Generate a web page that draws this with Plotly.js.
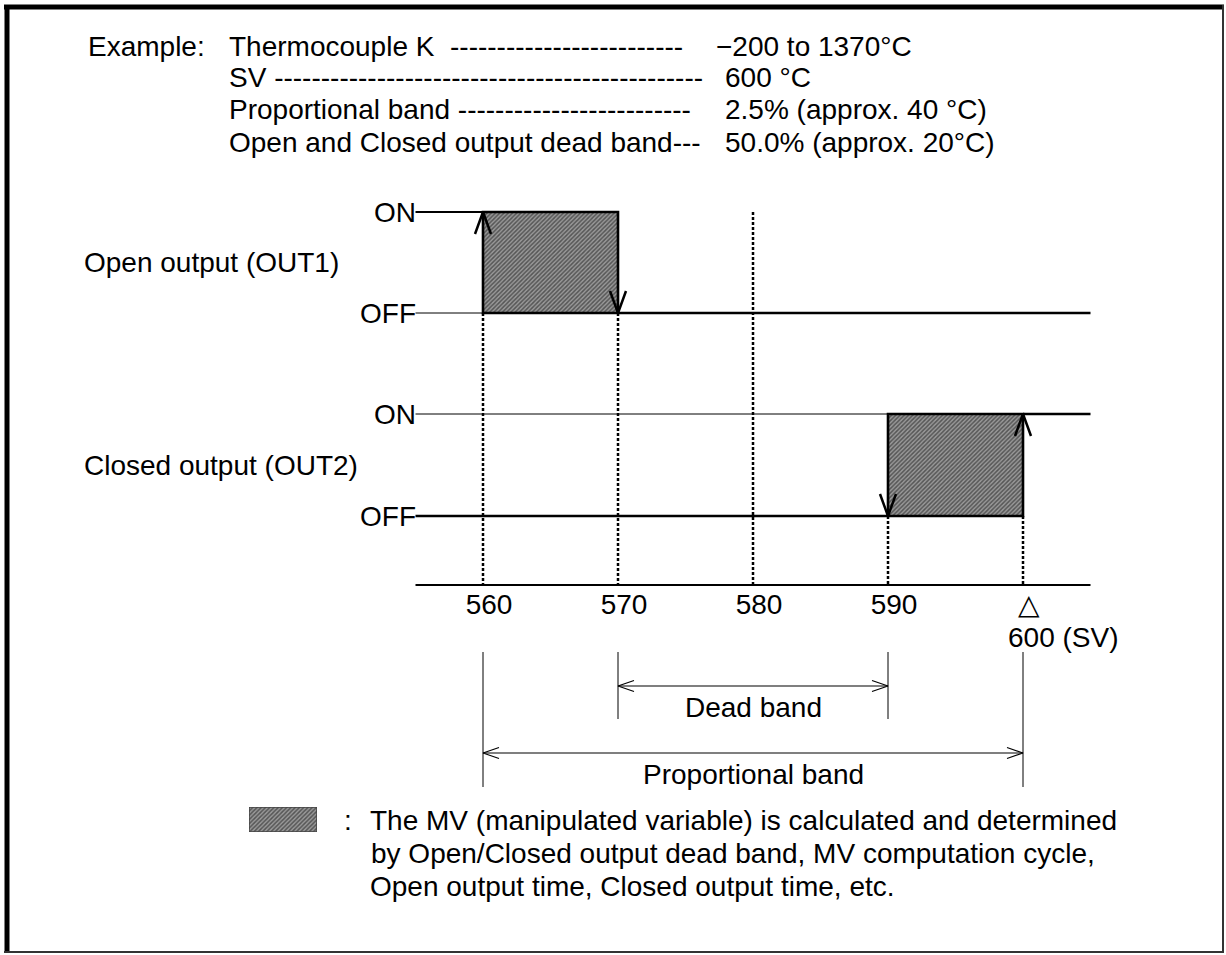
<!DOCTYPE html>
<html><head><meta charset="utf-8">
<script src="https://cdn.plot.ly/plotly-3.0.1.min.js"></script>
<style>html,body{margin:0;padding:0;background:#fff}</style>
</head><body><div id="chart" style="width:1226px;height:955px"></div>
<script>
// ---------------- data ----------------
const tickValues = [560, 570, 580, 590, 600];
const tickLabels = ['560', '570', '580', '590', '△'];
const setValue = 600;                 // SV
const setValueLabel = '600 (SV)';
const openMV = [560, 570];            // Open output (OUT1) ON interval
const closedMV = [590, 600];          // Closed output (OUT2) ON interval
const deadBand = [570, 590];
const propBand = [560, 600];
const scaleExtent = [555, 605];
const stateLabels = ['ON', 'OFF', 'ON', 'OFF'];
const outputNames = ['Open output (OUT1)', 'Closed output (OUT2)'];
const headerLabels = ['Thermocouple K  -------------------------',
  'SV ----------------------------------------------',
  'Proportional band -------------------------',
  'Open and Closed output dead band---'];
const headerValues = ['−200 to 1370°C', '600 °C', '2.5% (approx. 40 °C)', '50.0% (approx. 20°C)'];
const bandNames = ['Dead band', 'Proportional band'];
const noteLines = ['The MV (manipulated variable) is calculated and determined',
  'by Open/Closed output dead band, MV computation cycle,',
  'Open output time, Closed output time, etc.'];

// ---------------- layout constants ----------------
const W = 1226, H = 955;
const X0 = 524.2222, X1 = 615.037;      // x range so the scale fits the frame
const U = (X1 - X0) / W;                // data units per pixel
const ON1 = 212, OFF1 = 313, ON2 = 414, OFF2 = 516, AXIS = 585;
const FONT = 'Liberation Sans, Arial, Helvetica, sans-serif';
const FS = 28;
const THICK = 2.6, THIN = 1;

function chev(x, y, dir, len, half) {
  if (dir === 'up') return [[x - half * U, x, x + half * U], [y + len, y, y + len]];
  if (dir === 'down') return [[x - half * U, x, x + half * U], [y - len, y, y - len]];
  if (dir === 'left') return [[x + len * U, x, x + len * U], [y - half, y, y + half]];
  return [[x - len * U, x, x - len * U], [y - half, y, y + half]];
}
function joinPaths(list) {
  const xs = [], ys = [];
  list.forEach((p, i) => { if (i) { xs.push(null); ys.push(null); } xs.push(...p[0]); ys.push(...p[1]); });
  return { x: xs, y: ys };
}
function line(x, y, width, extra) {
  return Object.assign({ type: 'scatter', mode: 'lines', x: x, y: y, hoverinfo: 'skip', showlegend: false,
    line: { color: '#000', width: width } }, extra || {});
}
const hatch = { shape: '/', fgcolor: '#555555', bgcolor: '#9a9a9a', size: 3, solidity: 0.5 };

const traces = [];
// shaded MV areas
[[openMV, OFF1, ON1], [closedMV, OFF2, ON2]].forEach(([iv, lo, hi]) => {
  traces.push({ type: 'scatter', mode: 'lines', x: [iv[0], iv[0], iv[1], iv[1], iv[0]], y: [lo, hi, hi, lo, lo],
    fill: 'toself', fillcolor: '#787878', fillpattern: hatch, line: { width: 0 }, hoverinfo: 'skip', showlegend: false });
});
// Open output (OUT1) signal
traces.push(line([scaleExtent[0], openMV[0]], [ON1, ON1], 2));
traces.push(line([scaleExtent[0], openMV[0]], [OFF1, OFF1], THIN));
traces.push(line([scaleExtent[1], openMV[0], openMV[0], openMV[1], openMV[1]], [OFF1, OFF1, ON1, ON1, OFF1], THICK));
// Closed output (OUT2) signal
traces.push(line([scaleExtent[0], closedMV[0]], [ON2, ON2], THIN));
traces.push(line([scaleExtent[0], closedMV[1], closedMV[1], closedMV[0], closedMV[0], null, closedMV[1], scaleExtent[1]],
  [OFF2, OFF2, ON2, ON2, OFF2, null, ON2, ON2], THICK));
// edge arrows
const ea = joinPaths([chev(openMV[0], ON1, 'up', 22, 8), chev(openMV[1], OFF1, 'down', 22, 8),
  chev(closedMV[0], OFF2, 'down', 22, 8), chev(closedMV[1], ON2, 'up', 22, 8)]);
traces.push(line(ea.x, ea.y, 2.5));
// dotted guides
const gx = [], gy = [];
tickValues.forEach(v => {
  const top = openMV.includes(v) ? OFF1 : closedMV.includes(v) ? OFF2 : ON1;
  gx.push(v, v, null); gy.push(top, AXIS, null);
});
traces.push(line(gx, gy, 2.5, { line: { color: '#000', width: 2.5, dash: '3px,2px' } }));
// temperature scale line
traces.push(line(scaleExtent, [AXIS, AXIS], 2));
// band markers
const BAND_TOP = 652;
const bands = [[deadBand, 686, 719], [propBand, 753, 787]];
bands.forEach(([b, ay, bottom]) => {
  traces.push(line([b[0], b[0], null, b[1], b[1]], [BAND_TOP, bottom, null, BAND_TOP, bottom], THIN));
  const p = joinPaths([[[b[0], b[1]], [ay, ay]], chev(b[0], ay, 'left', 16, 5.5), chev(b[1], ay, 'right', 16, 5.5)]);
  traces.push(line(p.x, p.y, 1.2));
});
// legend swatch
traces.push({ type: 'scatter', mode: 'lines', xaxis: 'x2', yaxis: 'y2', x: [0, 1, 1, 0, 0], y: [0, 0, 1, 1, 0],
  fill: 'toself', fillcolor: '#787878', fillpattern: hatch, line: { color: '#444', width: 1.5 }, hoverinfo: 'skip', showlegend: false });

// ---------------- annotations ----------------
const ann = [];
function txt(text, px, py, xanchor, extra) {
  ann.push(Object.assign({ text: text, xref: 'paper', yref: 'y', x: px / W, y: py, xanchor: xanchor || 'left', yanchor: 'middle',
    showarrow: false, font: { family: FONT, size: FS, color: '#000' } }, extra || {}));
}
const HY = [46, 77, 109, 142];
txt('Example:', 86, HY[0]);
headerLabels.forEach((t, i) => txt(t, 227, HY[i]));
headerValues.forEach((t, i) => txt(t, i === 0 ? 714 : 723, HY[i]));
txt(outputNames[0], 82, (ON1 + OFF1) / 2);
txt(outputNames[1], 82, (ON2 + OFF2) / 2);
ann.push({ text: setValueLabel, xref: 'x', yref: 'y', x: setValue, y: 637, xanchor: 'left', xshift: -17, yanchor: 'middle',
  showarrow: false, font: { family: FONT, size: FS, color: '#000' } });
bands.forEach(([b, ay], i) => {
  ann.push({ text: bandNames[i], xref: 'x', yref: 'y', x: (b[0] + b[1]) / 2, y: ay + 21, xanchor: 'center', yanchor: 'middle',
    showarrow: false, font: { family: FONT, size: FS, color: '#000' } });
});
txt(':', 342, 820);
txt(noteLines[0], 368, 820);
txt(noteLines[1], 369, 853);
txt(noteLines[2], 368, 886);

// ---------------- frame ----------------
const shapes = [
  { type: 'line', xref: 'paper', yref: 'paper', x0: 4 / W, x1: 1224 / W, y0: 1 - 7 / H, y1: 1 - 7 / H, line: { color: '#000', width: 5 } },
  { type: 'line', xref: 'paper', yref: 'paper', x0: 7 / W, x1: 7 / W, y0: 1 - 5 / H, y1: 1 - 953 / H, line: { color: '#000', width: 5 } },
  { type: 'line', xref: 'paper', yref: 'paper', x0: 1223 / W, x1: 1223 / W, y0: 1 - 5 / H, y1: 1 - 953 / H, line: { color: '#333', width: 2 } },
  { type: 'line', xref: 'paper', yref: 'paper', x0: 4 / W, x1: 1224 / W, y0: 1 - 952 / H, y1: 1 - 952 / H, line: { color: '#333', width: 2 } }
];

const layout = {
  width: W, height: H, margin: { l: 0, r: 0, t: 0, b: 0 }, paper_bgcolor: '#fff', plot_bgcolor: 'rgba(0,0,0,0)',
  showlegend: false, font: { family: FONT, size: FS, color: '#000' },
  xaxis: { range: [X0, X1], domain: [0, 1], anchor: 'free', position: (H - AXIS) / H, tickvals: tickValues, ticktext: tickLabels,
    ticks: '', ticklabelshift: 6, showline: false, showgrid: false, zeroline: false, fixedrange: true, tickfont: { family: FONT, size: FS } },
  yaxis: { range: [H, 0], domain: [0, 1], anchor: 'free', position: 416 / W, tickvals: [ON1, OFF1, ON2, OFF2], ticktext: stateLabels,
    ticks: '', showline: false, showgrid: false, zeroline: false, fixedrange: true, tickfont: { family: FONT, size: FS } },
  xaxis2: { domain: [249 / W, 317 / W], range: [0, 1], anchor: 'y2', visible: false, fixedrange: true },
  yaxis2: { domain: [1 - 832 / H, 1 - 807 / H], range: [0, 1], anchor: 'x2', visible: false, fixedrange: true },
  annotations: ann, shapes: shapes
};
Plotly.newPlot('chart', traces, layout, { staticPlot: true, displayModeBar: false });
</script></body></html>
